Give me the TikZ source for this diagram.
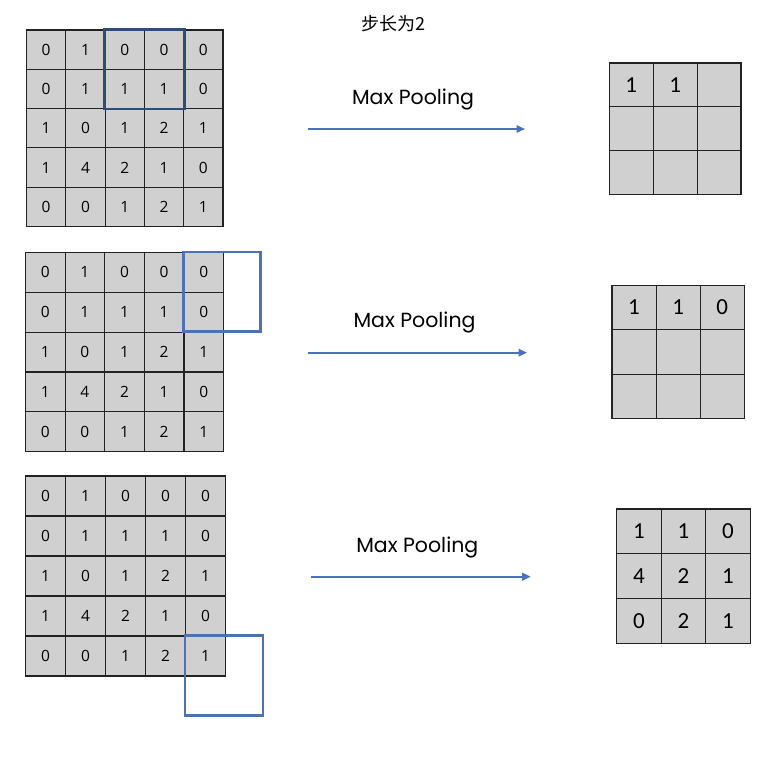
\documentclass[tikz,border=0pt]{standalone}
\usepackage{fontspec}
\newfontfamily\cjk{Noto Sans CJK SC}
\newfontfamily\numfont{Open Sans}
\newfontfamily\outfont{Carlito}
\newfontfamily\labfont{Poppins}
\usetikzlibrary{arrows.meta}
\definecolor{cellgray}{HTML}{D0D0D0}
\definecolor{gridline}{HTML}{222222}
\definecolor{navy}{HTML}{2F4B78}
\definecolor{winblue}{HTML}{4E71B4}
\definecolor{arrblue}{HTML}{4A72B8}
\tikzset{
  incell/.style={draw=gridline, line width=1.2pt, fill=cellgray, inner sep=0pt,
    font=\numfont\fontsize{15.5}{16}\selectfont},
  outcell/.style={draw=gridline, line width=1.2pt, fill=cellgray, inner sep=0pt,
    font=\outfont\fontsize{23}{24}\selectfont},
  poolwin/.style={line width=2.4pt},
  poolarrow/.style={draw=arrblue, line width=2.4pt, -{Triangle[length=8.5pt,width=7.5pt]}},
  poollabel/.style={anchor=base, inner sep=0pt, font=\labfont\fontsize{20.5}{21}\selectfont},
}
\newcommand\ingrid[5]{%
  \foreach \r/\vals in {1/{0,1,0,0,0},2/{0,1,1,1,0},3/{1,0,1,2,1},4/{1,4,2,1,0},5/{0,0,1,2,1}} {
    \foreach \v [count=\c] in \vals {
      \node[incell, minimum width=#4pt, minimum height=#5pt] (#1-\r-\c)
        at ({#2+(\c-0.5)*#4}, {#3+(\r-0.5)*#5}) {\v};
    }
  }%
}
\newcommand\outgrid[6]{%
  \foreach \r/\vals in {#6} {
    \foreach \v [count=\c] in \vals {
      \node[outcell, minimum width=#4pt, minimum height=#5pt] (#1-\r-\c)
        at ({#2+(\c-0.5)*#4}, {#3+(\r-0.5)*#5}) {\v};
    }
  }%
}
\begin{document}
\begin{tikzpicture}[x=1pt, y=-1pt]
  \useasboundingbox (0,0) rectangle (782,757);
  \fill[white] (0,0) rectangle (782,757);

  \node[anchor=base, inner sep=0pt, font=\cjk\fontsize{18}{18}\selectfont] (title) at (393,31) {步长为2};

  % row 1
  \ingrid{ga}{26.5}{30}{39.3}{39.3}
  \outgrid{oa}{609.3}{63}{43.9}{43.8}{1/{1,1,{}},2/{{},{},{}},3/{{},{},{}}}
  \draw[poolwin, draw=navy] (ga-1-3.north west) rectangle (ga-2-4.south east);
  \coordinate (a1) at (308,129);
  \coordinate (a2) at (525,129);
  \draw[poolarrow] (a1) -- (a2);
  \node[poollabel] (la) at (413,104.3) {Max Pooling};

  % row 2
  \ingrid{gb}{25.5}{252.5}{39.6}{39.8}
  \outgrid{ob}{612}{285.3}{44.1}{44.5}{1/{1,1,0},2/{{},{},{}},3/{{},{},{}}}
  \draw[poolwin, draw=winblue] (gb-1-5.north west) rectangle ++(77,79.5);
  \coordinate (b1) at (308,352.7);
  \coordinate (b2) at (527,352.7);
  \draw[poolarrow] (b1) -- (b2);
  \node[poollabel] (lb) at (414.5,327.7) {Max Pooling};

  % row 3
  \ingrid{gc}{25.5}{476}{40}{40}
  \outgrid{oc}{616.7}{509}{44.5}{44.8}{1/{1,1,0},2/{4,2,1},3/{0,2,1}}
  \draw[poolwin, draw=winblue] (gc-5-5.north west) rectangle ++(78,80);
  \coordinate (c1) at (310.7,576.7);
  \coordinate (c2) at (530.7,576.7);
  \draw[poolarrow] (c1) -- (c2);
  \node[poollabel] (lc) at (417.3,552.3) {Max Pooling};
\end{tikzpicture}
\end{document}
